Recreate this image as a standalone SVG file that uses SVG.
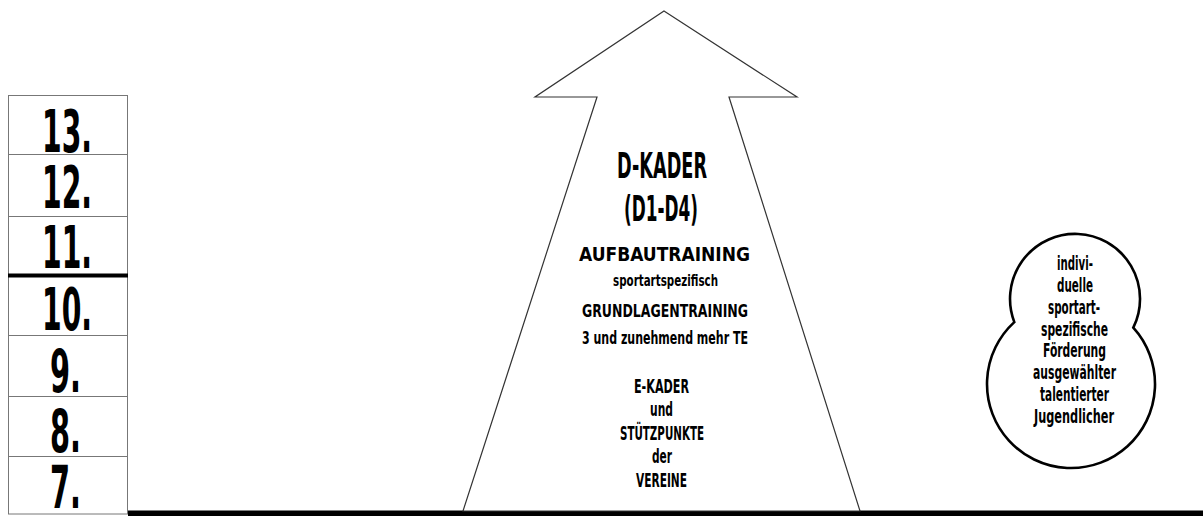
<svg xmlns="http://www.w3.org/2000/svg" width="1203" height="516" viewBox="0 0 1203 516">
  <style>
    .cond { font-family: "Liberation Sans Narrow", "DejaVu Sans Condensed", "Liberation Sans", sans-serif; font-weight: bold; fill: #000; font-stretch: condensed; }
    .num { font-size: 58px; }
    .big { font-size: 35px; }
    .mid { font-size: 20px; }
    .sm { font-size: 15px; }
    .cell { fill: none; stroke: #777; stroke-width: 1; }
  </style>
  <rect x="0" y="0" width="1203" height="516" fill="#fff"/>

  <g id="scale">
    <rect class="cell" x="8.5" y="95.5" width="119" height="418.5"/>
    <line class="cell" x1="8" y1="154.5" x2="128" y2="154.5"/>
    <line class="cell" x1="8" y1="216.5" x2="128" y2="216.5"/>
    <line class="cell" x1="8" y1="335.5" x2="128" y2="335.5"/>
    <line class="cell" x1="8" y1="396.5" x2="128" y2="396.5"/>
    <line class="cell" x1="8" y1="456.5" x2="128" y2="456.5"/>
    <rect x="8" y="273.5" width="120" height="4" fill="#000"/>
    <text class="cond num" x="42" y="152" textLength="50" lengthAdjust="spacingAndGlyphs">13.</text>
    <text class="cond num" x="42" y="208" textLength="50" lengthAdjust="spacingAndGlyphs">12.</text>
    <text class="cond num" x="42" y="268" textLength="50" lengthAdjust="spacingAndGlyphs">11.</text>
    <text class="cond num" x="42" y="330" textLength="50" lengthAdjust="spacingAndGlyphs">10.</text>
    <text class="cond num" x="50" y="392" textLength="31" lengthAdjust="spacingAndGlyphs">9.</text>
    <text class="cond num" x="50" y="452" textLength="31" lengthAdjust="spacingAndGlyphs">8.</text>
    <text class="cond num" x="50" y="508" textLength="31" lengthAdjust="spacingAndGlyphs">7.</text>
  </g>

  <g id="baseline">
    <rect x="128" y="510.5" width="1075" height="5.5" fill="#000"/>
  </g>

  <g id="arrow">
    <polygon points="664,11 797,97 729,97 860,511 463,511 597,97 535,97" fill="#fff" stroke="#333" stroke-width="1.2" stroke-linejoin="miter"/>
    <text class="cond big" x="617" y="178" textLength="90" lengthAdjust="spacingAndGlyphs">D-KADER</text>
    <text class="cond big" x="624" y="221" textLength="74" lengthAdjust="spacingAndGlyphs">(D1-D4)</text>
    <text class="cond mid" x="579" y="261" textLength="171" lengthAdjust="spacingAndGlyphs">AUFBAUTRAINING</text>
    <text class="cond sm" x="613" y="286" textLength="105" lengthAdjust="spacingAndGlyphs">sportartspezifisch</text>
    <text class="cond" style="font-size:18.5px" x="582" y="317" textLength="166" lengthAdjust="spacingAndGlyphs">GRUNDLAGENTRAINING</text>
    <text class="cond" style="font-size:17px" x="582" y="344" textLength="166" lengthAdjust="spacingAndGlyphs">3 und zunehmend mehr TE</text>
    <text class="cond mid" x="634" y="393" textLength="55" lengthAdjust="spacingAndGlyphs">E-KADER</text>
    <text class="cond mid" x="650" y="416" textLength="23" lengthAdjust="spacingAndGlyphs">und</text>
    <text class="cond mid" x="620" y="440" textLength="84" lengthAdjust="spacingAndGlyphs">STÜTZPUNKTE</text>
    <text class="cond mid" x="652" y="463" textLength="20" lengthAdjust="spacingAndGlyphs">der</text>
    <text class="cond mid" x="636" y="487" textLength="51" lengthAdjust="spacingAndGlyphs">VEREINE</text>
  </g>

  <g id="bubble">
    <path d="M1014.3,322.1 A65,65 0 1 1 1133.3,327.7 A84,84 0 1 1 1014.3,322.1 Z" fill="#fff" stroke="#000" stroke-width="2.6"/>
    <text class="cond" style="font-size:19px" x="1057" y="270" textLength="36" lengthAdjust="spacingAndGlyphs">indivi-</text>
    <text class="cond" style="font-size:19px" x="1057" y="292" textLength="36" lengthAdjust="spacingAndGlyphs">duelle</text>
    <text class="cond" style="font-size:19px" x="1048" y="314" textLength="52" lengthAdjust="spacingAndGlyphs">sportart-</text>
    <text class="cond" style="font-size:19px" x="1041" y="336" textLength="67" lengthAdjust="spacingAndGlyphs">spezifische</text>
    <text class="cond" style="font-size:19px" x="1043" y="357" textLength="63" lengthAdjust="spacingAndGlyphs">Förderung</text>
    <text class="cond" style="font-size:19px" x="1033" y="379" textLength="83" lengthAdjust="spacingAndGlyphs">ausgewählter</text>
    <text class="cond" style="font-size:19px" x="1040" y="401" textLength="69" lengthAdjust="spacingAndGlyphs">talentierter</text>
    <text class="cond" style="font-size:19px" x="1034" y="423" textLength="80" lengthAdjust="spacingAndGlyphs">Jugendlicher</text>
  </g>
</svg>
